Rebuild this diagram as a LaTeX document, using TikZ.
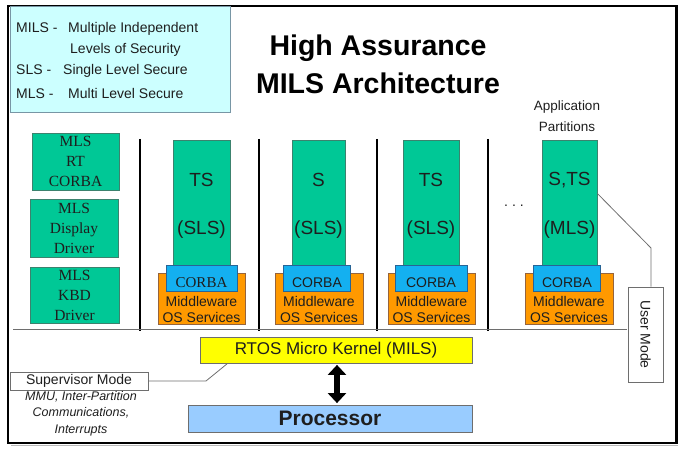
\documentclass[tikz,border=0pt]{standalone}
\usepackage{fontspec}
\newfontfamily\sansf{Liberation Sans}
\newfontfamily\seriff{Liberation Serif}
\usetikzlibrary{arrows.meta}
\definecolor{grn}{RGB}{0,200,150}
\definecolor{grnborder}{RGB}{60,130,110}
\definecolor{corbablue}{RGB}{20,176,240}
\definecolor{corbaborder}{RGB}{40,100,150}
\definecolor{orng}{RGB}{255,153,0}
\definecolor{orngborder}{RGB}{150,100,60}
\definecolor{yel}{RGB}{255,255,0}
\definecolor{procblue}{RGB}{153,204,255}
\definecolor{legfill}{RGB}{204,255,255}
\definecolor{legborder}{RGB}{120,150,165}
\definecolor{txt}{RGB}{30,30,30}
\definecolor{linegray}{RGB}{110,110,110}
\tikzset{
  plainbox/.style={draw, inner sep=0pt, line width=0.8pt},
  greenbox/.style={plainbox, fill=grn, draw=grnborder},
  corbabox/.style={plainbox, fill=corbablue, draw=corbaborder},
  osbox/.style={plainbox, fill=orng, draw=orngborder},
  lefttxt/.style={text=txt, align=center, font=\seriff\fontsize{15.5}{20}\selectfont},
  parttxt/.style={text=txt, font=\sansf\fontsize{19}{22}\selectfont},
  corbatxt/.style={text=txt, font=\sansf\fontsize{14}{16}\selectfont},
  mwtxt/.style={text=txt, align=center, font=\sansf\fontsize{14}{16}\selectfont},
  legtxt/.style={text=txt, anchor=west, inner sep=0pt, font=\sansf\fontsize{14}{16}\selectfont},
  sep/.style={line width=2.6pt, black},
  conn/.style={draw=linegray, line width=0.8pt},
  dblarrow/.style={line width=6pt, {Triangle[width=18pt,length=10pt]}-{Triangle[width=18pt,length=10pt]}}
}
\begin{document}
\begin{tikzpicture}[x=1pt,y=-1pt]
\useasboundingbox (0,0) rectangle (678,449);
% outer frame
\draw[gray!55, line width=1.6pt] (11,445.5) -- (678,445.5);
\draw[line width=2.2pt] (8,6) rectangle (676.5,443);

% legend
\node[plainbox, fill=legfill, draw=legborder, minimum width=220, minimum height=106] (legend) at (120,59) {};
\node[legtxt] (leg1) at (16,29) {\makebox[52pt][l]{MILS -}Multiple Independent};
\node[legtxt] (leg2) at (70,50) {Levels of Security};
\node[legtxt] (leg3) at (16,71) {\makebox[47pt][l]{SLS -}Single Level Secure};
\node[legtxt] (leg4) at (16,93) {\makebox[52pt][l]{MLS -}Multi Level Secure};

% title
\node[align=center, text=black, font=\sansf\bfseries\fontsize{28.5}{38}\selectfont] (title) at (378,64) {High Assurance\\MILS Architecture};

% left column
\node[greenbox, lefttxt, minimum width=87, minimum height=57] (rtcorba) at (75.5,161.5) {MLS\\RT\\CORBA};
\node[greenbox, lefttxt, minimum width=88, minimum height=58] (display) at (74,228) {MLS\\Display\\Driver};
\node[greenbox, lefttxt, minimum width=89, minimum height=56] (kbd) at (74.5,295) {MLS\\KBD\\Driver};

% separators
\draw[sep] (140,139) -- (140,331);
\draw[sep] (259,139) -- (259,331);
\draw[sep] (377,139) -- (377,331);
\draw[sep] (488,139) -- (488,331);
\draw[linegray, line width=1pt] (13,330) -- (627,330);

% partition 1
\node[greenbox, minimum width=57, minimum height=125] (p1) at (201.5,202.5) {};
\node[osbox, minimum width=87, minimum height=51] (os1) at (201.5,298.5) {};
\node[corbabox, minimum width=71, minimum height=26] (cb1) at (201.5,278) {};
\node[parttxt] (p1a) at (201.5,180) {TS};
\node[parttxt] (p1b) at (201.5,230) {(SLS)};
\node[text=txt, font=\seriff\fontsize{15}{16}\selectfont] (cb1t) at (201.5,283) {CORBA};
\node[mwtxt] (os1t) at (201.5,309) {Middleware\\OS Services};

% partition 2
\node[greenbox, minimum width=53, minimum height=125] (p2) at (318.5,202.5) {};
\node[osbox, minimum width=88, minimum height=51] (os2) at (319,298.5) {};
\node[corbabox, minimum width=67, minimum height=26] (cb2) at (316.5,278) {};
\node[parttxt] (p2a) at (318.5,180) {S};
\node[parttxt] (p2b) at (318.5,230) {(SLS)};
\node[corbatxt] (cb2t) at (317,283) {CORBA};
\node[mwtxt] (os2t) at (319,309) {Middleware\\OS Services};

% partition 3
\node[greenbox, minimum width=56, minimum height=125] (p3) at (431,202.5) {};
\node[osbox, minimum width=87, minimum height=51] (os3) at (431.5,298.5) {};
\node[corbabox, minimum width=72, minimum height=26] (cb3) at (431,278) {};
\node[parttxt] (p3a) at (431,180) {TS};
\node[parttxt] (p3b) at (431,230) {(SLS)};
\node[corbatxt] (cb3t) at (431,283) {CORBA};
\node[mwtxt] (os3t) at (431.5,309) {Middleware\\OS Services};

% dots
\node[text=txt, font=\sansf\fontsize{14}{16}\selectfont] (dots) at (514,206) {.\hspace{4pt}.\hspace{4pt}.};

% partition 4
\node[greenbox, minimum width=55, minimum height=125] (p4) at (569.5,202.5) {};
\node[osbox, minimum width=88, minimum height=51] (os4) at (569,298.5) {};
\node[corbabox, minimum width=67, minimum height=26] (cb4) at (566.5,278) {};
\node[parttxt] (p4a) at (569.5,180) {S,TS};
\node[parttxt] (p4b) at (569.5,230) {(MLS)};
\node[corbatxt] (cb4t) at (567,283) {CORBA};
\node[mwtxt] (os4t) at (569,309) {Middleware\\OS Services};

\node[text=txt, align=center, font=\sansf\fontsize{13.5}{21}\selectfont] (apppart) at (567,116.5) {Application\\Partitions};

% user mode
\node[plainbox, draw=linegray, fill=white, rotate=-90, minimum width=95, minimum height=35, text=txt, font=\sansf\fontsize{14}{16}\selectfont] (user) at (645.5,334.5) {User Mode};
\coordinate (ubend) at (651,248);
\draw[conn] ([yshift=9pt]p4.east) -- (ubend) -- (ubend |- user.west);

% kernel, processor
\node[plainbox, fill=yel, draw=linegray, minimum width=272, minimum height=26, text=txt, font=\sansf\fontsize{17}{20}\selectfont] (rtos) at (336,350) {RTOS Micro Kernel (MILS)};
\node[plainbox, fill=procblue, draw=linegray, minimum width=284, minimum height=27, text=txt, font=\sansf\bfseries\fontsize{21}{24}\selectfont] (proc) at (330,418.5) {Processor};
\draw[dblarrow] ([xshift=1pt,yshift=-1.5pt]rtos.south) -- ([xshift=1pt,yshift=1.5pt]rtos.south |- proc.north);

% supervisor
\node[plainbox, draw=linegray, fill=white, minimum width=138, minimum height=18, text=txt, font=\sansf\fontsize{14}{16}\selectfont] (sup) at (79,381) {Supervisor Mode};
\coordinate (sbend) at (206,381);
\draw[conn] (sup.east) -- (sbend) -- ([xshift=28pt]rtos.south west);
\node[text=txt, align=center, font=\sansf\itshape\fontsize{12.5}{16.5}\selectfont] (supnote) at (81,413.5) {MMU, Inter-Partition\\Communications,\\Interrupts};
\end{tikzpicture}
\end{document}
